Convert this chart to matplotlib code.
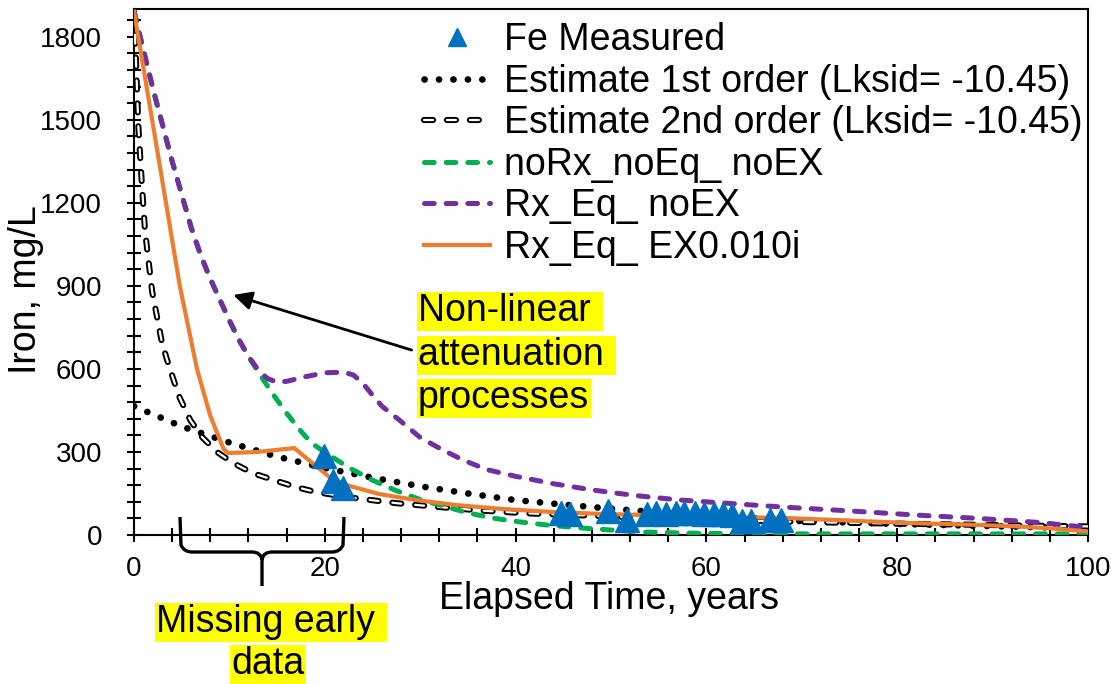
import numpy as np
import matplotlib
matplotlib.use("Agg")
import matplotlib.pyplot as plt
from matplotlib.ticker import MultipleLocator
from matplotlib.path import Path
from matplotlib.patches import PathPatch
import matplotlib.patheffects as pe

plt.rcParams['font.family'] = ['Liberation Sans', 'DejaVu Sans']
plt.rcParams['lines.scale_dashes'] = False

# measured iron
t_meas = [19.9, 20.9, 21.9, 44.8, 45.7, 49.7, 51.7, 53.8, 54.7, 55.8, 56.8, 57.7,
          58.8, 59.7, 60.8, 61.7, 62.7, 63.7, 64.7, 66.7, 67.8]
fe_meas = [285, 195, 171, 79, 77, 87, 55, 77, 78, 76, 80, 78,
           78, 77, 76, 75, 74, 52, 50, 54, 54]

# estimate 1st order
t_first = [0, 5, 10, 15, 20, 25, 30, 35, 40, 45, 50, 55, 60, 65, 70, 75, 80, 85, 90, 95, 100]
fe_first = [465, 392, 334, 283, 242, 207, 176, 150, 126, 110, 95, 82, 70, 60, 50, 45, 40, 36, 32, 28, 25]

# estimate 2nd order
t_second = [0, 0.2, 0.45, 0.8, 1.15, 1.9, 2.4, 2.9, 3.4, 4.1, 4.8, 5.9, 7.1, 8.7, 10.4,
            12.4, 14.7, 17, 19.1, 23, 27.5, 32, 36.5, 41.4, 50, 60, 70, 80, 90, 100]
fe_second = [1890, 1720, 1480, 1280, 1100, 880, 790, 700, 640, 565, 495, 415, 355, 300, 260,
             224, 198, 173, 155, 134, 115, 101, 88, 78, 67, 55, 47, 41, 36, 31]

# noRx_noEq_ noEX
t_green = [0, 1, 2, 3, 4, 5, 6, 7, 8, 9, 10, 11, 12, 13, 14.5, 16, 17.4, 18.6, 20.8, 22.6,
           25, 27.5, 30, 32.5, 35, 37.6, 40.5, 43.3, 47, 50, 53.4, 57.8, 62, 66, 70, 80, 90, 100]
fe_green = [1890, 1750, 1610, 1480, 1350, 1230, 1110, 1010, 925, 850, 775, 705, 645, 590, 512, 440,
            379, 332, 281, 242, 198, 160, 128, 104, 80, 61, 47, 36, 25, 18, 11, 7, 5, 4, 4, 4, 4, 4]

# Rx_Eq_ noEX
t_purple = [0, 1, 2, 3, 4, 5, 6, 7, 8, 9, 10, 11, 12, 13, 14, 15, 16, 18, 20, 22, 23, 24,
            25, 26, 28, 30, 32, 34.4, 37, 40, 44, 48, 50.6, 53, 57, 62, 68, 75, 82, 88, 95, 100]
fe_purple = [1890, 1750, 1610, 1480, 1350, 1230, 1110, 1010, 925, 850, 775, 705, 645, 597, 565,
             552, 555, 572, 586, 588, 578, 548, 505, 465, 410, 352, 314, 272, 236, 212, 185, 163,
             151, 141, 127, 115, 101, 87, 72, 61, 45, 27]

# Rx_Eq_ EX0.010i
t_orange = [0, 1.9, 3.35, 4.8, 6.6, 8, 9.4, 9.9, 12.9, 16.8, 18.7, 20.5, 22.3, 25.7, 29.6,
            33.8, 38.7, 43.9, 49.2, 54, 60, 68.6, 75, 81.5, 87, 92, 96, 100]
fe_orange = [1890, 1500, 1200, 900, 600, 430, 310, 296, 300, 314, 260, 209, 180, 148, 126,
             108, 94, 83, 76, 72, 67, 61, 52, 43, 38, 32, 24, 13]

fig = plt.figure(figsize=(11.13, 6.84), dpi=100)
ax = fig.add_axes([134 / 1113, 1 - 535 / 684, 954 / 1113, 526 / 684])

l1, = ax.plot(t_first, fe_first, color='black', lw=4.8, linestyle=(0, (0.1, 10.3)),
              dash_capstyle='round', label='Estimate 1st order (Lksid= -10.45)', zorder=3)
l2, = ax.plot(t_second, fe_second, color='white', lw=1.6, linestyle=(0, (6.5, 10.0)),
              dash_capstyle='round', label='Estimate 2nd order (Lksid= -10.45)', zorder=3,
              path_effects=[pe.Stroke(linewidth=4.4, foreground='black'), pe.Normal()])
l3, = ax.plot(t_green, fe_green, color='#00B050', lw=3.6, linestyle=(0, (7.0, 8.6)),
              dash_capstyle='round', label='noRx_noEq_ noEX', zorder=4)
l4, = ax.plot(t_purple, fe_purple, color='#7030A0', lw=3.6, linestyle=(0, (7.0, 8.6)),
              dash_capstyle='round', label='Rx_Eq_ noEX', zorder=4)
l5, = ax.plot(t_orange, fe_orange, color='#ED7D31', lw=3.0, label='Rx_Eq_ EX0.010i', zorder=5)
l0, = ax.plot(t_meas, fe_meas, linestyle='none', marker='^', markersize=17.5,
              color='#0070C0', label='Fe Measured', zorder=6)

ax.set_xlim(0, 100)
ax.set_ylim(0, 1900)
ax.xaxis.set_major_locator(MultipleLocator(20))
ax.xaxis.set_minor_locator(MultipleLocator(4))
ax.yaxis.set_major_locator(MultipleLocator(300))
ax.yaxis.set_minor_locator(MultipleLocator(60))
ax.tick_params(axis='both', which='both', direction='inout', length=10, width=1.5)
ax.tick_params(axis='x', which='major', labelsize=20, pad=10)
ax.tick_params(axis='y', which='major', labelsize=20, pad=18)
for s in ax.spines.values():
    s.set_linewidth(1.5)

ax.set_xlabel('Elapsed Time, years', fontsize=27)
ax.set_ylabel('Iron, mg/L', fontsize=27)
ax.xaxis.set_label_coords(0.498, -0.088)
ax.yaxis.set_label_coords(-0.113, 0.466)
ax.yaxis.label.set_va('center')
ax.xaxis.label.set_va('top')

leg = ax.legend(handles=[l0, l1, l2, l3, l4, l5], loc='upper left',
                bbox_to_anchor=(424 / 1113, 1 - 22 / 684), bbox_transform=fig.transFigure,
                frameon=False, fontsize=27, handlelength=1.75, handletextpad=0.38,
                labelspacing=0.15, borderpad=0, borderaxespad=0, markerscale=0.72)

# arrow for non-linear attenuation
ax.annotate('', xy=(10.4, 867), xytext=(29.1, 668),
            arrowprops=dict(arrowstyle='-|>', color='black', lw=2, mutation_scale=28,
                            shrinkA=0, shrinkB=0))

yellow = dict(facecolor='yellow', edgecolor='none', pad=1)
fig.text(418 / 1113, 1 - 311 / 684, 'Non-linear ', fontsize=27, va='center', bbox=yellow)
fig.text(418 / 1113, 1 - 355 / 684, 'attenuation ', fontsize=27, va='center', bbox=yellow)
fig.text(418 / 1113, 1 - 398 / 684, 'processes', fontsize=27, va='center', bbox=yellow)
fig.text(271 / 1113, 1 - 622 / 684, 'Missing early ', fontsize=27, va='center', ha='center', bbox=yellow)
fig.text(268 / 1113, 1 - 664 / 684, 'data', fontsize=27, va='center', ha='center', bbox=yellow)

# curly brace under the axis (in pixel space)
def px(x, y):
    return (x, 684 - y)

verts = [px(180, 517), px(181, 545), px(184, 552), px(192, 552), px(252, 552), px(261, 552),
         px(262, 560), px(262, 586),
         px(262, 560), px(263, 552), px(272, 552), px(332, 552), px(340, 552), px(343, 545),
         px(344, 517)]
codes = [Path.MOVETO, Path.LINETO, Path.CURVE3, Path.CURVE3, Path.LINETO, Path.CURVE3, Path.CURVE3,
         Path.LINETO,
         Path.MOVETO, Path.CURVE3, Path.CURVE3, Path.LINETO, Path.CURVE3, Path.CURVE3, Path.LINETO]
brace = PathPatch(Path(verts, codes), facecolor='none', edgecolor='black', lw=2.4,
                  transform=None, clip_on=False)
fig.patches.append(brace)

fig.savefig('out.png', dpi=100)
